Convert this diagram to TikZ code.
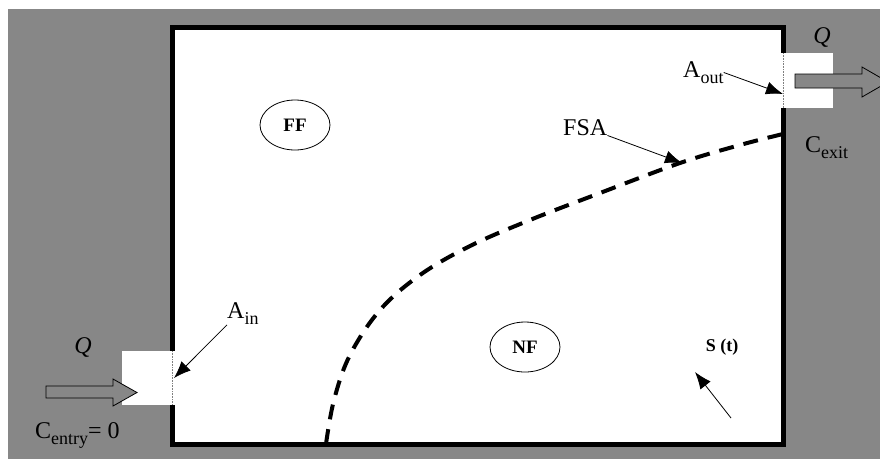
\documentclass[tikz,border=0pt]{standalone}
\usepackage{fontspec}
\setmainfont{Liberation Serif}
\usetikzlibrary{arrows.meta,shapes.geometric}
\definecolor{bggray}{RGB}{135,135,135}
\newcommand{\lowsub}[1]{\raisebox{-0.6ex}{\fontsize{18}{18}\selectfont #1}}

\begin{document}
\begin{tikzpicture}[x=1pt, y=-1pt,
    every node/.style={font=\fontsize{24}{28}\selectfont, inner sep=0pt},
    zone/.style={draw, ellipse, line width=0.8pt, minimum width=70pt, minimum height=50pt,
                 font=\fontsize{19}{20}\selectfont\bfseries},
    pointer/.style={-{Latex[length=17pt,width=13pt]}, line width=0.8pt},
    flowarrow/.style={draw, fill=bggray, line width=0.8pt}]
    \useasboundingbox (0,0) rectangle (880,459);
    \fill[bggray] (8,9) rectangle (880,459);
    % Draw tank
    \fill[white] (172.5,27) rectangle (783,444.5);
    \draw[line width=5pt] (172.5,27) rectangle (783,444.5);
    % Draw inlet and outlet openings
    \fill[white] (122,351) rectangle (175.5,405);
    \draw[densely dotted, gray, line width=0.6pt] (172.5,351) -- (172.5,405);
    \fill[white] (780,53) rectangle (833,108);
    \draw[densely dotted, gray, line width=0.6pt] (783,53) -- (783,108);
    % Draw flow arrows
    \draw[flowarrow] (46,386) -- (113,386) -- (113,379) -- (137,392.5) -- (113,406) -- (113,398) -- (46,398) -- cycle;
    \draw[flowarrow] (795,74) -- (862,74) -- (862,67) -- (888,82) -- (862,97) -- (862,88) -- (795,88) -- cycle;
    % Draw front
    \draw[line width=4pt, dash pattern=on 15pt off 10pt] plot[smooth, tension=0.6] coordinates
        {(326,444) (334,400) (350,355) (380,310) (420,275) (470,246) (530,220) (600,193) (680,163) (740,145) (783,134)};
    % Draw labels
    \node (qin) at (83,347) {\itshape Q};
    \node (qout) at (822,37) {\itshape Q};
    \node[anchor=base west] (centry) at (35,438) {C\lowsub{entry}= 0};
    \node[anchor=base west] (cexit) at (805,152) {C\lowsub{exit}};
    \node[anchor=base west] (ain) at (227,318) {A\lowsub{in}};
    \node[anchor=base west] (aout) at (683,77) {A\lowsub{out}};
    \node[anchor=base west] (fsa) at (563,135) {FSA};
    \node[font=\fontsize{18}{20}\selectfont\bfseries] (st) at (722,347) {S (t)};
    \node[zone] (ff) at (295,125) {FF};
    \node[zone] (nf) at (525,347) {NF};
    % Draw pointers
    \coordinate (aintip) at (174,378);
    \coordinate (aouttip) at (783,94);
    \coordinate (fsatip) at (682,163);
    \coordinate (sttail) at (731,418);
    \coordinate (sttip) at (695,372);
    \draw[pointer] (ain.south west) -- (aintip);
    \draw[pointer] (aout.east) -- (aouttip);
    \draw[pointer] (fsa.south east) -- (fsatip);
    \draw[pointer] (sttail) -- (sttip);
\end{tikzpicture}
\end{document}
